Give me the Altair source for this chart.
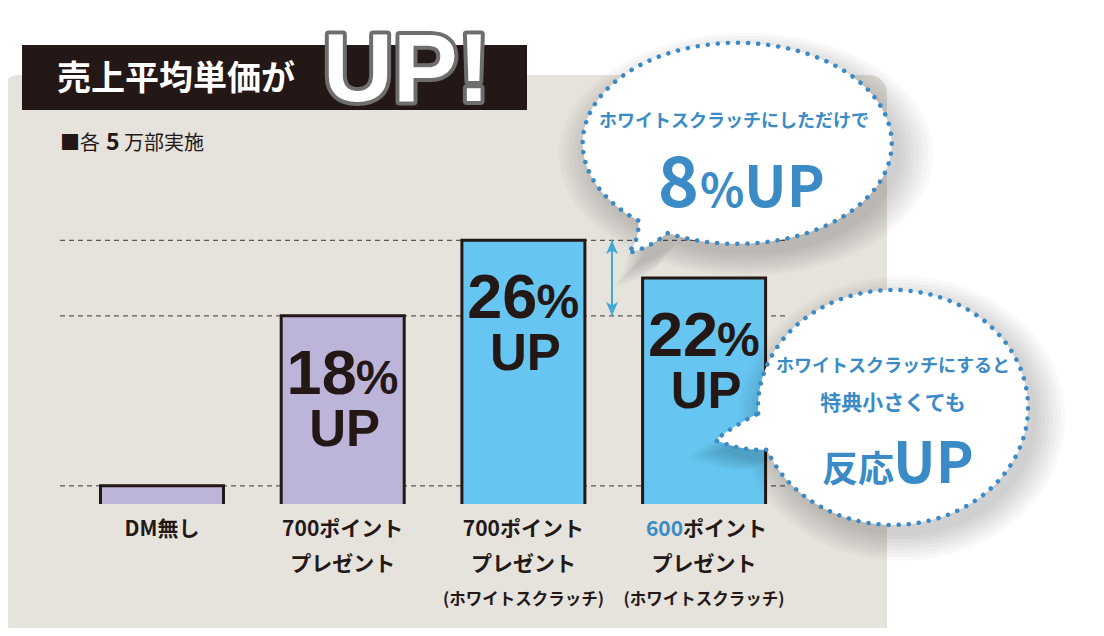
import math
import altair as alt
import pandas as pd

# ---------------- data ----------------
categories = [
    "DM無し",
    "700ポイントプレゼント",
    "700ポイントプレゼント(ホワイトスクラッチ)",
    "600ポイントプレゼント(ホワイトスクラッチ)",
]
price_index = [100, 118, 126, 122]          # 売上平均単価 (DM無し = 100)
bar_fill = ["#bcb5d9", "#bcb5d9", "#66c6f1", "#66c6f1"]
label_line1 = ["DM無し", "700ポイント", "700ポイント", ""]
label_line2 = ["", "プレゼント", "プレゼント", "プレゼント"]
label_line3 = ["", "", "(ホワイトスクラッチ)", "(ホワイトスクラッチ)"]
highlight_num = "600"
highlight_rest = "ポイント"
grid_levels = [100, 118, 126]
diff_top, diff_bottom = 126, 118            # 8% の差

title_text = "売上平均単価が"
title_up = "UP!"
sub_a, sub_b, sub_c = "■各", "5", "万部実施"
b1_line = "ホワイトスクラッチにしただけで"
b1_big = ("8", "%", "UP")
b2_lines = ["ホワイトスクラッチにすると", "特典小さくても"]
b2_big = ("反応", "UP")

# ---------------- style ----------------
INK = "#231815"
PANEL = "#e6e3dd"
BLUE_TXT = "#3b8bc7"
ARROW = "#3fa9d9"
JP = "Noto Sans CJK JP"
LAT = "Liberation Sans"
W, H = 1088, 620


def X(px):
    return px - 8


def Y(py):
    return py - 8


df = pd.DataFrame({
    "cat": categories, "value": price_index, "fill": bar_fill,
    "l1": label_line1, "l2": label_line2, "l3": label_line3,
})
df["gain_txt"] = (df["value"] - 100).astype(int).astype(str)
grid_df = pd.DataFrame({"level": grid_levels})
diff_df = pd.DataFrame({"top": [diff_top], "bottom": [diff_bottom]})
one = alt.Data(values=[{"k": 0}])

xscale = alt.Scale(domain=categories, range=[2.15, 847.95], paddingInner=0.3193,
                   paddingOuter=0.5, align=0.5, round=False)
yscale = alt.Scale(domain=[84.94, 150.60], zero=False, nice=False)
XE = alt.X("cat:N", scale=xscale, axis=None, sort=categories)
YE = alt.Y("value:Q", scale=yscale, axis=None, stack=False)

layers = []

# background panel and title box
layers.append(alt.Chart(one).mark_rect(fill=PANEL, cornerRadius=18).encode(
    x=alt.value(X(1)), x2=alt.value(X(887)), y=alt.value(Y(75)), y2=alt.value(Y(650))))
layers.append(alt.Chart(one).mark_rect(fill=INK).encode(
    x=alt.value(X(22)), x2=alt.value(X(527)), y=alt.value(Y(45)), y2=alt.value(Y(110))))
layers.append(alt.Chart(one).mark_text(font=JP, fontWeight="bold", fontSize=34, color="white",
                                       align="left", baseline="middle").encode(
    x=alt.value(X(57)), y=alt.value(Y(80)), text=alt.value(title_text)))
layers.append(alt.Chart(one).mark_text(font=LAT, fontWeight="bold", fontSize=97,
                                       color="#6e6e6e", stroke="#6e6e6e", strokeWidth=8,
                                       strokeJoin="round", align="left", baseline="alphabetic").encode(
    x=alt.value(X(323)), y=alt.value(Y(101)), text=alt.value(title_up)))
layers.append(alt.Chart(one).mark_text(font=LAT, fontWeight="bold", fontSize=97,
                                       color="white", align="left", baseline="alphabetic").encode(
    x=alt.value(X(323)), y=alt.value(Y(101)), text=alt.value(title_up)))

# subtitle
layers.append(alt.Chart(one).mark_text(font=JP, fontSize=20, color=INK, align="left",
                                       baseline="middle").encode(
    x=alt.value(X(60)), y=alt.value(Y(144)), text=alt.value(sub_a)))
layers.append(alt.Chart(one).mark_text(font=JP, fontSize=23, fontWeight="bold", color=INK,
                                       align="left", baseline="middle").encode(
    x=alt.value(X(106)), y=alt.value(Y(143)), text=alt.value(sub_b)))
layers.append(alt.Chart(one).mark_text(font=JP, fontSize=20, color=INK, align="left",
                                       baseline="middle").encode(
    x=alt.value(X(124)), y=alt.value(Y(144)), text=alt.value(sub_c)))

# grid lines
layers.append(alt.Chart(grid_df).mark_rule(color="#5a5a5a", strokeWidth=1.3, strokeDash=[5, 4]).encode(
    y=alt.Y("level:Q", scale=yscale, axis=None),
    x=alt.value(X(60)), x2=alt.value(X(785))))

# difference arrow
layers.append(alt.Chart(diff_df).mark_rule(color=ARROW, strokeWidth=2).encode(
    x=alt.value(X(612)), y=alt.Y("top:Q", scale=yscale, axis=None), y2="bottom:Q"))
layers.append(alt.Chart(diff_df).mark_point(shape="M0,0L6,14L0,10L-6,14Z", size=4, filled=True,
                                            fill=ARROW, opacity=1, strokeWidth=0).encode(
    x=alt.value(X(612)), y=alt.Y("top:Q", scale=yscale, axis=None)))
layers.append(alt.Chart(diff_df).mark_point(shape="M0,0L6,-14L0,-10L-6,-14Z", size=4, filled=True,
                                            fill=ARROW, opacity=1, strokeWidth=0).encode(
    x=alt.value(X(612)), y=alt.Y("bottom:Q", scale=yscale, axis=None)))

# bars
layers.append(alt.Chart(df).mark_bar(stroke=INK, strokeWidth=3, strokeJoin="miter").encode(
    x=XE, y=YE, y2=alt.value(Y(510)), fill=alt.Fill("fill:N", scale=None)))
layers.append(alt.Chart(one).mark_rect(fill=PANEL).encode(
    x=alt.value(X(80)), x2=alt.value(X(790)), y=alt.value(Y(504)), y2=alt.value(Y(514))))

# bar labels
up_bars = alt.Chart(df).transform_filter("datum.value > 100")
layers.append(up_bars.mark_text(font=LAT, fontWeight="bold", fontSize=63, color=INK, align="right",
                                baseline="alphabetic", dx=14, dy=78).encode(x=XE, y=YE, text="gain_txt:N"))
layers.append(up_bars.mark_text(font=LAT, fontWeight="bold", fontSize=48, color=INK, align="left",
                                baseline="alphabetic", dx=13, dy=78).encode(x=XE, y=YE, text=alt.value("%")))
layers.append(up_bars.mark_text(font=LAT, fontWeight="bold", fontSize=51, color=INK, align="center",
                                baseline="alphabetic", dx=2, dy=130).encode(x=XE, y=YE, text=alt.value("UP")))

# category labels
for field, py, fs in (("l1", 530, 21), ("l2", 565, 21), ("l3", 600, 16.5)):
    layers.append(alt.Chart(df).mark_text(font=JP, fontWeight="bold", fontSize=fs, color=INK,
                                          baseline="middle").encode(
        x=XE, y=alt.value(Y(py)), text=f"{field}:N"))
hl = alt.Chart(df).transform_filter(alt.datum.cat == categories[3])
layers.append(hl.mark_text(font=JP, fontWeight="bold", fontSize=21, color=BLUE_TXT, align="right",
                           baseline="middle", dx=-21).encode(x=XE, y=alt.value(Y(530)),
                                                             text=alt.value(highlight_num)))
layers.append(hl.mark_text(font=JP, fontWeight="bold", fontSize=21, color=INK, align="left",
                           baseline="middle", dx=-21).encode(x=XE, y=alt.value(Y(530)),
                                                             text=alt.value(highlight_rest)))


# speech bubbles
def bubble_path(rx, ry, th_a, th_b, tip, ca, cb):
    ax, ay = rx * math.cos(math.radians(th_a)), ry * math.sin(math.radians(th_a))
    bx, by = rx * math.cos(math.radians(th_b)), ry * math.sin(math.radians(th_b))
    return (f"M{ax:.1f},{ay:.1f}A{rx},{ry} 0 1 1 {bx:.1f},{by:.1f}"
            f"Q{cb[0]},{cb[1]} {tip[0]},{tip[1]}Q{ca[0]},{ca[1]} {ax:.1f},{ay:.1f}Z")


bubbles = [
    ((737.5, 143.5), bubble_path(154.5, 100.5, 130, 117, (-109.5, 109.5), (-97.5, 96.5), (-87.5, 104.5))),
    ((893, 407.5), bubble_path(135, 117.5, 177, 159, (-178, 32.5), (-152, 14), (-150, 44))),
]
for (cx, cy), path in bubbles:
    for i in range(8):
        s = 1.0 + 0.03 * i
        layers.append(alt.Chart(one).mark_point(shape=path, size=4 * s * s, filled=True, fill="#000000",
                                                opacity=0.022, strokeWidth=0).encode(
            x=alt.value(X(cx + 9)), y=alt.value(Y(cy + 11))))
for (cx, cy), path in bubbles:
    layers.append(alt.Chart(one).mark_point(shape=path, size=4, filled=True, fill="white", opacity=1,
                                            stroke="#3b8ac6", strokeWidth=4.5, strokeDash=[0.1, 10],
                                            strokeCap="round").encode(
        x=alt.value(X(cx)), y=alt.value(Y(cy))))

# bubble texts
def txt(s, px, py, fs, align="center", weight="bold", baseline="middle", font=JP):
    return alt.Chart(one).mark_text(font=font, fontWeight=weight, fontSize=fs, color=BLUE_TXT,
                                    align=align, baseline=baseline).encode(
        x=alt.value(X(px)), y=alt.value(Y(py)), text=alt.value(s))


layers.append(txt(b1_line, 734, 122, 18))
layers.append(txt(b1_big[0], 699, 207, 70, align="right", baseline="alphabetic"))
layers.append(txt(b1_big[1], 700, 207, 46, align="left", baseline="alphabetic"))
layers.append(txt(b1_big[2], 744, 207, 57, align="left", baseline="alphabetic"))
layers.append(txt(b2_lines[0], 893, 367, 18))
layers.append(txt(b2_lines[1], 893, 404, 21))
layers.append(txt(b2_big[0], 894, 482, 36, align="right", baseline="alphabetic"))
layers.append(txt(b2_big[1], 893, 483, 57, align="left", baseline="alphabetic"))

chart = alt.layer(*layers).properties(
    width=W, height=H, autosize=alt.AutoSizeParams(type="none"), padding=0, background="white"
).configure_view(strokeWidth=0)

chart.save("out.html", embed_options={"renderer": "svg", "actions": False})
